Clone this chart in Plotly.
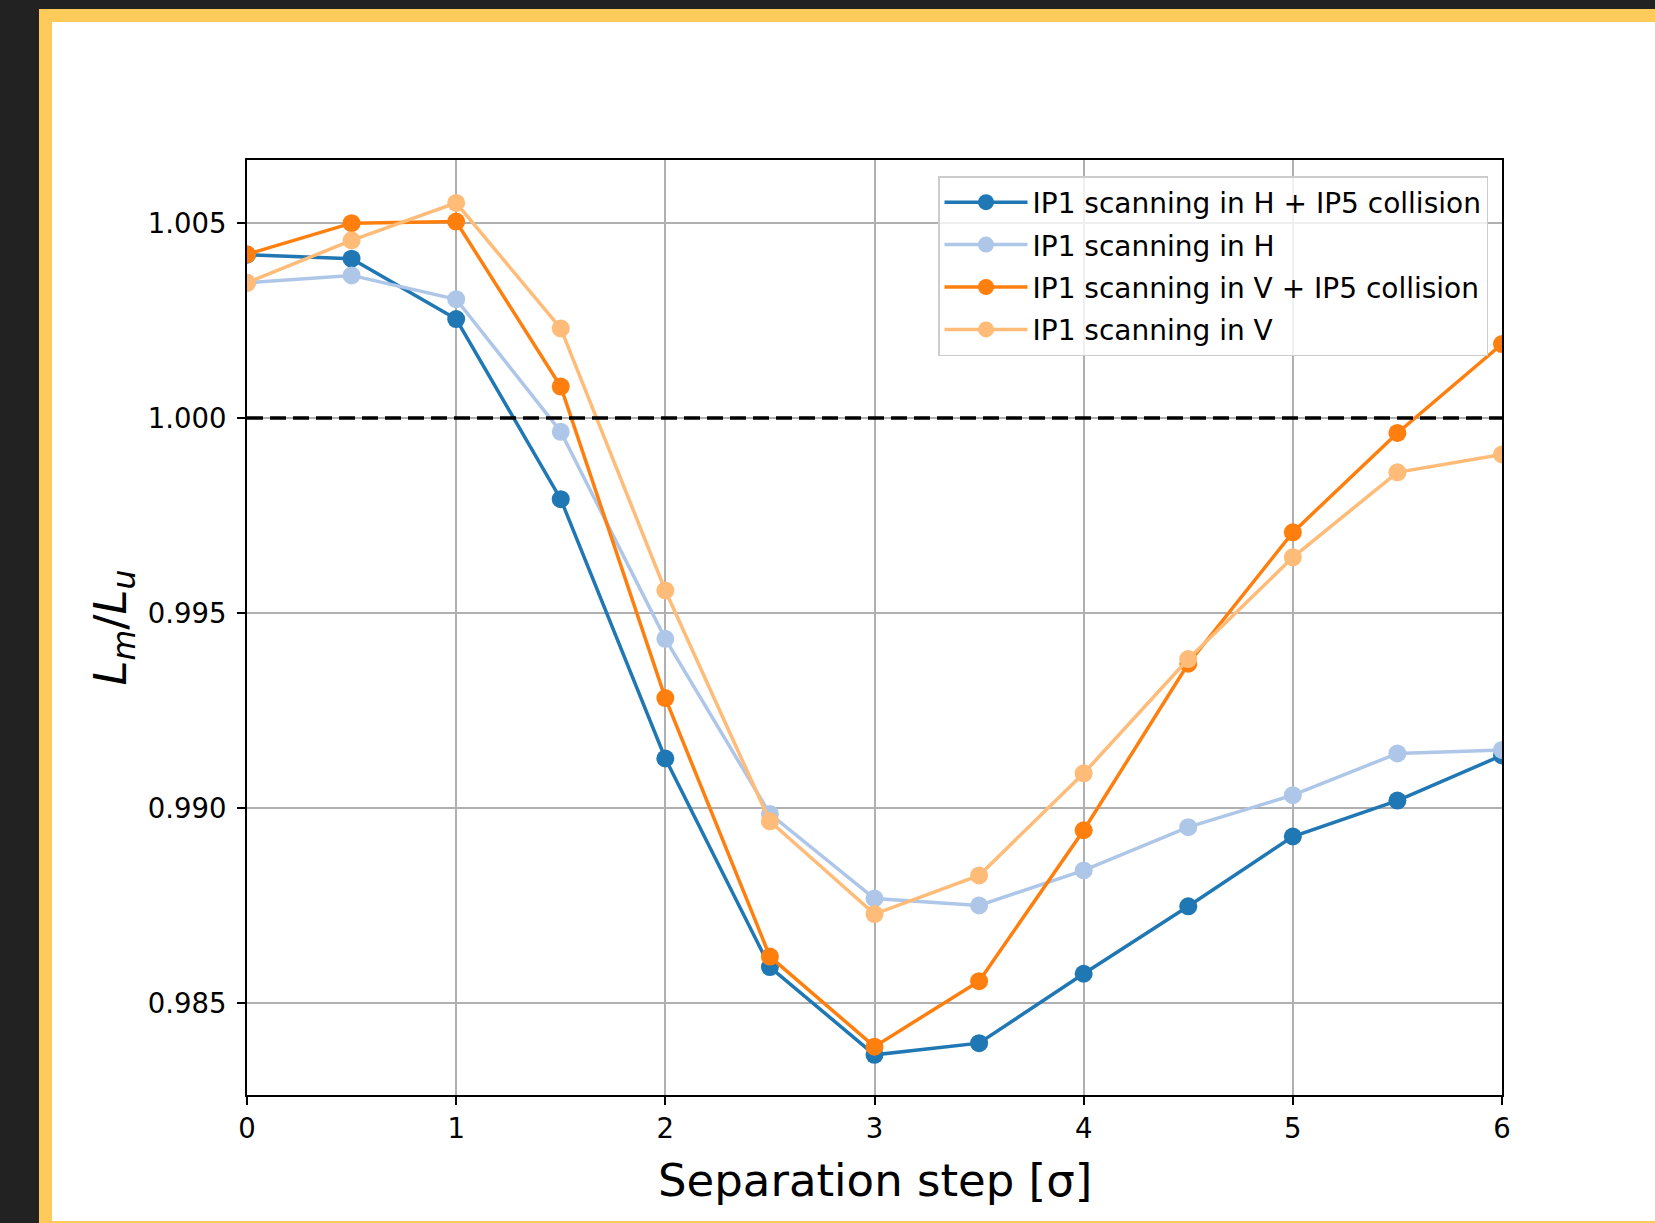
import plotly.graph_objects as go

# ---- data ----
separation = [0, 0.5, 1, 1.5, 2, 2.5, 3, 3.5, 4, 4.5, 5, 5.5, 6]
h_with_ip5 = [1.00419, 1.00409, 1.00254, 0.99792, 0.99127, 0.98592, 0.98367,
              0.98397, 0.98575, 0.98748, 0.98927, 0.99019, 0.99135]
h_only = [1.00347, 1.00366, 1.00305, 0.99965, 0.99434, 0.98985, 0.98768,
          0.98750, 0.98840, 0.98951, 0.99033, 0.99140, 0.99149]
v_with_ip5 = [1.00420, 1.00500, 1.00504, 1.00081, 0.99282, 0.98619, 0.98388,
              0.98556, 0.98943, 0.99370, 0.99707, 0.99962, 1.00190]
v_only = [1.00347, 1.00456, 1.00552, 1.00230, 0.99558, 0.98966, 0.98728,
          0.98827, 0.99089, 0.99382, 0.99643, 0.99861, 0.99907]
series_names = ["IP1 scanning in H + IP5 collision", "IP1 scanning in H",
                "IP1 scanning in V + IP5 collision", "IP1 scanning in V"]
reference_level = 1.0
x_ticks = [0, 1, 2, 3, 4, 5, 6]
y_ticks = [0.985, 0.990, 0.995, 1.000, 1.005]

colors = ["#1f77b4", "#aec7e8", "#ff7f0e", "#ffbb78"]
W, H = 1655, 1223
L, R, T, B = 247, 1502, 160, 1095
FONT = "DejaVu Sans"

fig = go.Figure()
for i, (name, ys) in enumerate(zip(series_names, [h_with_ip5, h_only, v_with_ip5, v_only])):
    fig.add_trace(go.Scatter(
        x=separation, y=ys, mode="lines+markers", name=name,
        legendgroup=f"g{i}",
        line=dict(color=colors[i], width=3.5),
        marker=dict(color=colors[i], size=18),
    ))

fig.add_hline(y=reference_level, line=dict(color="black", width=3.5, dash="16px,7px"))


def frame_rect(x0p, x1p, y0p, y1p, color):
    # pixel rectangle -> paper coords relative to plot area
    return dict(type="rect", xref="paper", yref="paper",
                x0=(x0p - L) / (R - L), x1=(x1p - L) / (R - L),
                y0=(B - y1p) / (B - T), y1=(B - y0p) / (B - T),
                fillcolor=color, line=dict(width=0), layer="below")


frame = [
    frame_rect(0, W, 0, H, "#222222"),
    frame_rect(39, W, 9, H, "#fecb5a"),
    frame_rect(52, W, 22, H - 2, "white"),
]

fig.update_layout(
    width=W, height=H, autosize=False,
    margin=dict(l=L, r=W - R, t=T, b=H - B, pad=0),
    paper_bgcolor="white", plot_bgcolor="white",
    font=dict(family=FONT, size=27.5, color="#000000"),
    shapes=list(fig.layout.shapes) + frame,
    showlegend=True,
    legend=dict(
        x=(1488 - L) / (R - L), y=(B - 176) / (B - T),
        xanchor="right", yanchor="top",
        bgcolor="rgba(255,255,255,0.8)", bordercolor="#cccccc", borderwidth=1.5,
        font=dict(family=FONT, size=28),
        tracegroupgap=3, itemwidth=83,
    ),
    annotations=[
        dict(text="Separation step [σ]", xref="paper", yref="paper",
             x=0.5, y=(B - 1180) / (B - T), xanchor="center", yanchor="middle",
             showarrow=False, font=dict(family=FONT, size=45)),
        dict(text="<i>L</i><sub><i>m</i></sub>/<i>L</i><sub><i>u</i></sub>",
             xref="paper", yref="paper",
             x=(112 - L) / (R - L), y=0.5, xanchor="center", yanchor="middle",
             textangle=-90, showarrow=False, font=dict(family=FONT, size=45)),
    ],
)

axis_common = dict(
    showline=True, linecolor="black", linewidth=1.8, mirror=True,
    ticks="outside", ticklen=8, tickwidth=1.5, tickcolor="black",
    showgrid=True, gridcolor="#b0b0b0", gridwidth=1.5,
    zeroline=False, tickfont=dict(family=FONT, size=27.5),
)
fig.update_xaxes(range=[0, 6], tickvals=x_ticks, ticktext=[str(t) for t in x_ticks], **axis_common)
fig.update_yaxes(range=[0.98264, 1.00662], tickvals=y_ticks, ticklabelstandoff=5,
                 ticktext=[f"{t:.3f}" for t in y_ticks], **axis_common)

fig.write_html(
    "out.html",
    config={"displayModeBar": False},
    post_script="document.body.style.margin='0';document.body.style.overflow='hidden';"
                "document.documentElement.style.overflow='hidden';",
)
